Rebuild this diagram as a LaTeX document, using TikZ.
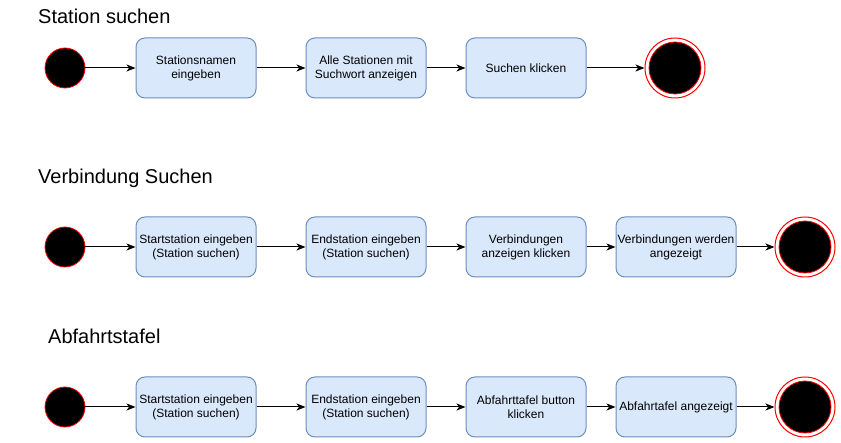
\documentclass[tikz,border=0pt]{standalone}
\usepackage{fontspec}
\setmainfont{Liberation Sans}
\usetikzlibrary{arrows.meta}
\definecolor{boxfill}{HTML}{DAE8FC}
\definecolor{boxdraw}{HTML}{6C8EBF}
\definecolor{redline}{HTML}{FF0000}
\tikzset{
  actbox/.style={draw=boxdraw, fill=boxfill, rounded corners=9pt, minimum width=120pt, minimum height=60pt, inner sep=0pt, align=center, font=\fontsize{12}{14}\selectfont, line width=1pt},
  startst/.style={circle, fill=black, draw=redline, line width=0.8pt, minimum size=40pt, inner sep=0pt},
  endouter/.style={circle, fill=white, draw=redline, line width=1pt, minimum size=60pt, inner sep=0pt},
  endinner/.style={circle, fill=black, draw=redline, line width=0.8pt, minimum size=52pt, inner sep=0pt},
  flow/.style={-{Stealth[length=9pt,width=7pt,inset=2.5pt]}, line width=1pt, black},
  titletext/.style={anchor=base west, inner sep=0pt, font=\fontsize{20}{24}\selectfont}
}
\begin{document}
\begin{tikzpicture}[x=1pt,y=-1pt]
\useasboundingbox (0,0) rectangle (841,443);
% Row 1
\node[titletext] (t1) at (38,24) {Station suchen};
\node[startst] (s1) at (65,68) {};
\node[actbox] (a1) at (196,68) {Stationsnamen\\eingeben};
\node[actbox] (a2) at (366,68) {Alle Stationen mit\\Suchwort anzeigen};
\node[actbox] (a3) at (526,68) {Suchen klicken};
\node[endouter] (e1) at (675,68) {};
\node[endinner] (e1i) at (675,68) {};
\draw[flow] (s1) -- (a1);
\draw[flow] (a1) -- (a2);
\draw[flow] (a2) -- (a3);
\draw[flow] (a3) -- (e1);
% Row 2
\node[titletext] (t2) at (38,184) {Verbindung Suchen};
\node[startst] (s2) at (65,247) {};
\node[actbox] (b1) at (196,247) {Startstation eingeben\\(Station suchen)};
\node[actbox] (b2) at (366,247) {Endstation eingeben\\(Station suchen)};
\node[actbox] (b3) at (526,247) {Verbindungen\\anzeigen klicken};
\node[actbox] (b4) at (676,247) {Verbindungen werden\\angezeigt};
\node[endouter] (e2) at (805,247) {};
\node[endinner] (e2i) at (805,247) {};
\draw[flow] (s2) -- (b1);
\draw[flow] (b1) -- (b2);
\draw[flow] (b2) -- (b3);
\draw[flow] (b3) -- (b4);
\draw[flow] (b4) -- (e2);
% Row 3
\node[titletext] (t3) at (48,344) {Abfahrtstafel};
\node[startst] (s3) at (65,407) {};
\node[actbox] (c1) at (196,407) {Startstation eingeben\\(Station suchen)};
\node[actbox] (c2) at (366,407) {Endstation eingeben\\(Station suchen)};
\node[actbox] (c3) at (526,407) {Abfahrttafel button\\klicken};
\node[actbox] (c4) at (676,407) {Abfahrtafel angezeigt};
\node[endouter] (e3) at (805,407) {};
\node[endinner] (e3i) at (805,407) {};
\draw[flow] (s3) -- (c1);
\draw[flow] (c1) -- (c2);
\draw[flow] (c2) -- (c3);
\draw[flow] (c3) -- (c4);
\draw[flow] (c4) -- (e3);
\end{tikzpicture}
\end{document}
